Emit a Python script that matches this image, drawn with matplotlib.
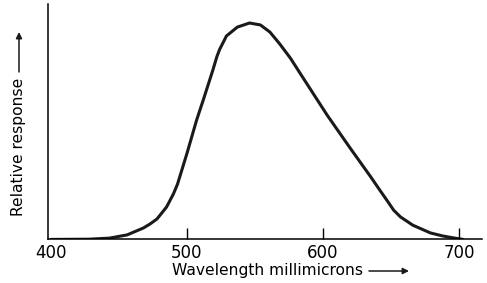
import matplotlib
matplotlib.use("Agg")
import matplotlib.pyplot as plt
from matplotlib.patches import FancyArrowPatch

# values
wavelength = [400, 428, 443, 456, 468, 473, 478, 485, 490, 493, 500, 507, 512,
              519, 522, 524, 527, 529, 537, 546, 554, 561, 568, 576, 585, 603,
              620, 635, 642, 648, 652, 657, 666, 679, 688, 696, 703]
response = [0.0, 0.001, 0.006, 0.021, 0.053, 0.072, 0.095, 0.15, 0.21, 0.255,
            0.398, 0.55, 0.645, 0.782, 0.845, 0.878, 0.915, 0.94, 0.981, 1.0,
            0.991, 0.958, 0.905, 0.838, 0.75, 0.575, 0.422, 0.29, 0.226, 0.172,
            0.135, 0.104, 0.066, 0.030, 0.016, 0.007, 0.0]
xticks = [400, 500, 600, 700]

plt.rcParams['font.family'] = ['DejaVu Sans']

fig = plt.figure(figsize=(4.87, 2.83), dpi=100)
ax = fig.add_axes([0.0986, 0.154, 0.891, 0.832])
ax.plot(wavelength, response, color='#1a1a1a', lw=2.2, solid_capstyle='round',
        solid_joinstyle='round')

ax.set_xlim(397.8, 716.9)
ax.set_ylim(0, 1.088)
ax.spines['top'].set_visible(False)
ax.spines['right'].set_visible(False)
ax.spines['left'].set_linewidth(1.1)
ax.spines['bottom'].set_linewidth(1.1)
ax.set_yticks([])
ax.set_xticks(xticks)
ax.set_xticklabels([str(t) for t in xticks])
ax.tick_params(axis='x', direction='in', length=8, width=1.0, labelsize=12, pad=3)
ax.xaxis.get_major_ticks()[0].tick1line.set_visible(False)

# axis titles with long arrows
fig.text(267 / 487, 1 - 271 / 283, 'Wavelength millimicrons', fontsize=11.2,
         ha='center', va='center')
fig.text(19 / 487, 1 - 147 / 283, 'Relative response', fontsize=11.2,
         rotation=90, ha='center', va='center')
fig.add_artist(FancyArrowPatch(
    (369 / 487, 1 - 271 / 283), (409 / 487, 1 - 271 / 283),
    transform=fig.transFigure, arrowstyle='-|>', mutation_scale=9,
    shrinkA=0, shrinkB=0, lw=1.1, color='#1a1a1a'))
fig.add_artist(FancyArrowPatch(
    (19 / 487, 1 - 72 / 283), (19 / 487, 1 - 32 / 283),
    transform=fig.transFigure, arrowstyle='-|>', mutation_scale=9,
    shrinkA=0, shrinkB=0, lw=1.1, color='#1a1a1a'))

fig.savefig('out.png', dpi=100)
